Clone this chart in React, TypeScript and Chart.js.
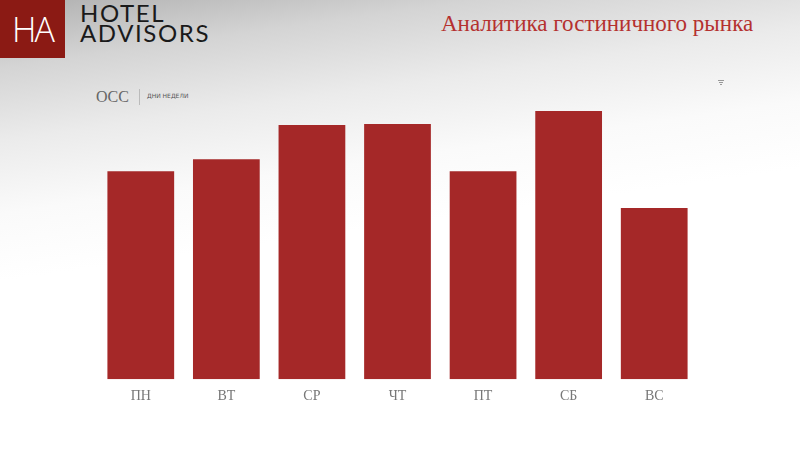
import React, { useEffect, useRef } from "react";
import { Chart, registerables } from "chart.js";

Chart.register(...registerables);

const categories = ["ПН", "ВТ", "СР", "ЧТ", "ПТ", "СБ", "ВС"];
const occValues = [69.3, 73.3, 84.7, 85.0, 69.3, 89.3, 57.0];
const barColor = "#a52828";

export default function App() {
  const ref = useRef<HTMLCanvasElement | null>(null);

  useEffect(() => {
    if (!ref.current) return;
    const chart = new Chart(ref.current, {
      type: "bar",
      data: {
        labels: categories,
        datasets: [
          {
            label: "OCC",
            data: occValues,
            backgroundColor: barColor,
            borderWidth: 0,
            categoryPercentage: 0.78,
            barPercentage: 1,
          },
        ],
      },
      options: {
        animation: false,
        responsive: false,
        maintainAspectRatio: false,
        layout: { padding: { left: 98, right: 103, top: 79, bottom: 36 } },
        plugins: { legend: { display: false }, tooltip: { enabled: false } },
        scales: {
          y: { display: false, min: 0, max: 100 },
          x: {
            grid: { display: false, drawTicks: false },
            border: { display: false },
            ticks: {
              color: "#777",
              padding: 9,
              font: { family: "'Liberation Serif', serif", size: 14 },
            },
          },
        },
      },
    });
    return () => chart.destroy();
  }, []);

  return (
    <div
      style={{
        position: "fixed",
        left: 0,
        top: 0,
        width: 800,
        height: 450,
        overflow: "hidden",
        background:
          "linear-gradient(172deg, #b0b0b0 0%, #d4d4d4 12%, #ebebeb 25%, #fafafa 38%, #ffffff 50%, #ffffff 100%)",
      }}
    >
      <div
        style={{
          position: "absolute",
          left: 0,
          top: 0,
          width: 65,
          height: 58,
          background: "#8b1a14",
          color: "#fff",
          fontFamily: "'Open Sans', sans-serif",
          fontWeight: 300,
          fontSize: 34,
          lineHeight: "58px",
          textAlign: "center",
          letterSpacing: -2,
        }}
      >
        HA
      </div>
      <div
        style={{
          position: "absolute",
          left: 80,
          top: 3,
          color: "#1a1a1a",
          fontFamily: "Lato, sans-serif",
          fontSize: 24,
          lineHeight: "20px",
          letterSpacing: 1.6,
        }}
      >
        HOTEL
        <br />
        ADVISORS
      </div>
      <div
        style={{
          position: "absolute",
          left: 441,
          top: 11,
          color: "#b5312f",
          fontFamily: "'Liberation Serif', serif",
          fontSize: 23,
          whiteSpace: "nowrap",
        }}
      >
        Аналитика гостиничного рынка
      </div>
      <div
        style={{
          position: "absolute",
          left: 96,
          top: 88,
          color: "#666",
          fontFamily: "'Liberation Serif', serif",
          fontSize: 16,
        }}
      >
        OCC
      </div>
      <div
        style={{
          position: "absolute",
          left: 139,
          top: 89,
          width: 1,
          height: 16,
          background: "#bbb",
        }}
      />
      <div
        style={{
          position: "absolute",
          left: 147,
          top: 92,
          color: "#555",
          fontFamily: "'DejaVu Sans', sans-serif",
          fontSize: 6,
          whiteSpace: "nowrap",
        }}
      >
        ДНИ НЕДЕЛИ
      </div>
      <div style={{ position: "absolute", left: 718, top: 80, width: 6, height: 1, background: "#999" }} />
      <div style={{ position: "absolute", left: 719, top: 82, width: 4, height: 1, background: "#999" }} />
      <div style={{ position: "absolute", left: 720, top: 84, width: 2, height: 1, background: "#999" }} />
      <canvas
        ref={ref}
        width={800}
        height={450}
        style={{ position: "absolute", left: 0, top: 0, width: 800, height: 450 }}
      />
    </div>
  );
}
